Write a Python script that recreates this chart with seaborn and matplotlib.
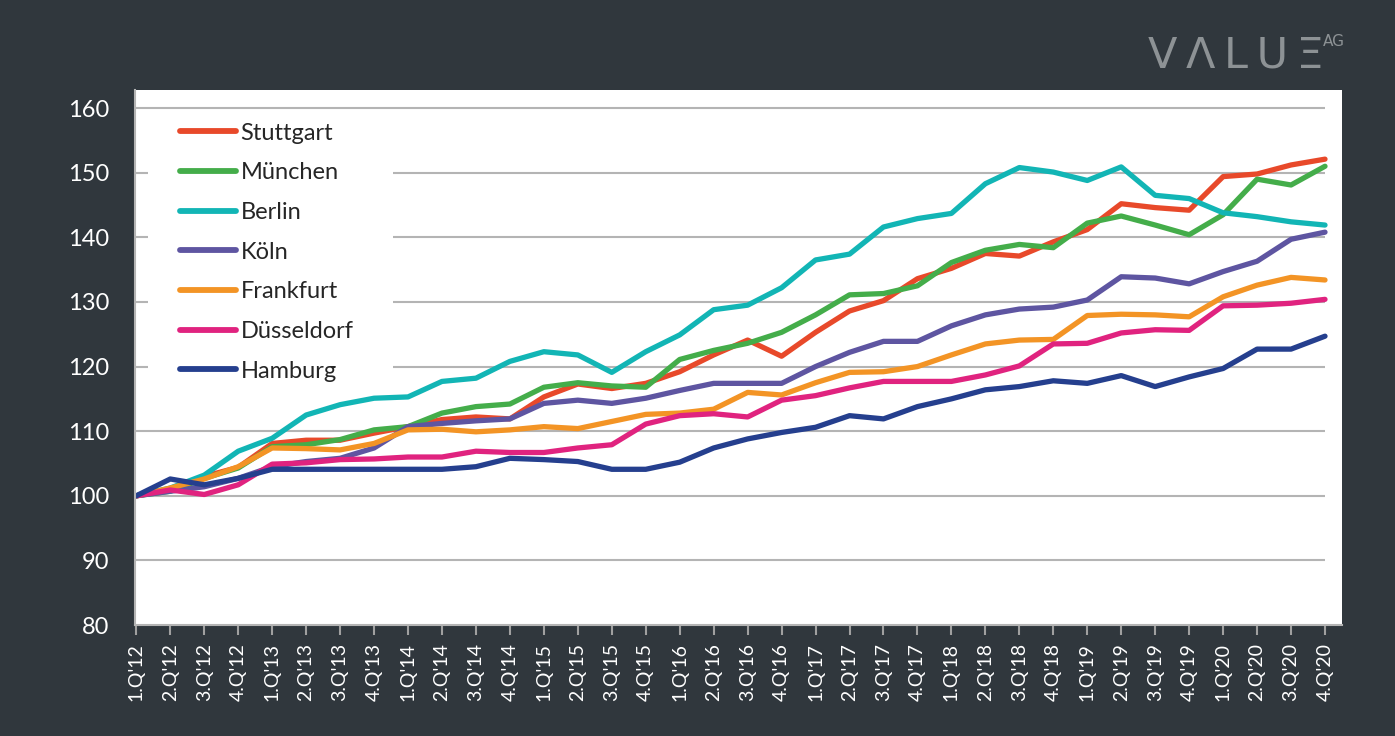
import numpy as np
import pandas as pd
import matplotlib
matplotlib.use("Agg")
import matplotlib.pyplot as plt
from matplotlib.patches import Rectangle
import seaborn as sns

quarters = [f"{q}.Q'{y}" for y in range(12, 21) for q in range(1, 5)]

stuttgart = [100, 100.9, 103.0, 104.4, 108.1, 108.6, 108.6, 109.7, 110.7, 111.8, 112.2, 111.9,
             115.3, 117.3, 116.6, 117.4, 119.2, 121.8, 124.1, 121.6, 125.3, 128.6, 130.2, 133.6,
             135.2, 137.5, 137.1, 139.3, 141.2, 145.2, 144.6, 144.2, 149.4, 149.8, 151.2, 152.1]
muenchen = [100, 100.7, 102.7, 104.3, 107.6, 107.9, 108.7, 110.2, 110.7, 112.8, 113.8, 114.2,
            116.8, 117.5, 117.0, 116.8, 121.1, 122.5, 123.6, 125.3, 128.0, 131.1, 131.3, 132.5,
            136.1, 138.0, 138.9, 138.4, 142.2, 143.3, 141.9, 140.4, 143.5, 149.0, 148.1, 151.0]
berlin = [100, 101.2, 103.2, 106.9, 108.9, 112.5, 114.1, 115.1, 115.3, 117.7, 118.2, 120.8,
          122.3, 121.8, 119.1, 122.3, 124.9, 128.8, 129.5, 132.2, 136.5, 137.4, 141.6, 142.9,
          143.7, 148.3, 150.8, 150.1, 148.8, 150.9, 146.5, 146.0, 143.8, 143.2, 142.4, 141.9]
koeln = [100, 100.7, 101.4, 102.7, 104.5, 105.3, 105.8, 107.4, 110.7, 111.2, 111.6, 111.9,
         114.3, 114.8, 114.3, 115.1, 116.3, 117.4, 117.4, 117.4, 120.0, 122.2, 123.9, 123.9,
         126.3, 128.0, 128.9, 129.2, 130.3, 133.9, 133.7, 132.8, 134.7, 136.3, 139.7, 140.8]
frankfurt = [100, 101.2, 102.6, 104.5, 107.4, 107.3, 107.1, 108.1, 110.2, 110.3, 109.9, 110.2,
             110.7, 110.4, 111.5, 112.6, 112.8, 113.4, 116.0, 115.6, 117.5, 119.1, 119.2, 120.0,
             121.8, 123.5, 124.1, 124.2, 127.9, 128.1, 128.0, 127.7, 130.8, 132.6, 133.8, 133.4]
duesseldorf = [100, 100.9, 100.2, 101.7, 104.9, 105.1, 105.6, 105.7, 106.0, 106.0, 106.9, 106.7,
               106.7, 107.4, 107.9, 111.1, 112.4, 112.7, 112.2, 114.8, 115.5, 116.7, 117.7, 117.7,
               117.7, 118.7, 120.1, 123.5, 123.6, 125.2, 125.7, 125.6, 129.4, 129.5, 129.8, 130.4]
hamburg = [100, 102.6, 101.7, 102.7, 104.1, 104.1, 104.1, 104.1, 104.1, 104.1, 104.5, 105.8,
           105.6, 105.3, 104.1, 104.1, 105.2, 107.4, 108.8, 109.8, 110.6, 112.4, 111.9, 113.8,
           115.0, 116.4, 116.9, 117.8, 117.4, 118.6, 116.9, 118.4, 119.7, 122.7, 122.7, 124.7]

cities = ["Stuttgart", "München", "Berlin", "Köln", "Frankfurt", "Düsseldorf", "Hamburg"]
series = [stuttgart, muenchen, berlin, koeln, frankfurt, duesseldorf, hamburg]
colors = ["#e8492a", "#44ad4a", "#12b5b5", "#5e55a1", "#f39425", "#e0237f", "#253f8e"]

rows = []
for city, vals in zip(cities, series):
    for i, v in enumerate(vals):
        rows.append({"idx": i, "value": v, "city": city})
df = pd.DataFrame(rows)

bg = "#30373d"
sns.set_style("white")
plt.rcParams["font.family"] = ["Lato", "DejaVu Sans"]

fig = plt.figure(figsize=(13.95, 7.36), dpi=100, facecolor=bg)
ax = fig.add_axes([0.0965, 0.1508, 0.8655, 0.7269])
ax.set_facecolor("white")

yticks = [80, 90, 100, 110, 120, 130, 140, 150, 160]
ax.hlines(yticks[1:], 0, len(quarters) - 1, color="#b4b4b4", lw=1.5, zorder=0)
# white block behind the legend hides the grid there
ax.add_patch(Rectangle((0.35, 117.3), 7.2, 41.6, facecolor="white",
                       edgecolor="none", zorder=0.5))

sns.lineplot(data=df, x="idx", y="value", hue="city", hue_order=cities,
             palette=dict(zip(cities, colors)), lw=3.8, ax=ax, legend=True,
             solid_capstyle="round")

ax.set_xlim(-0.05, 35.5)
ax.set_ylim(80, 162.8)
ax.set_yticks(yticks)
ax.set_xticks(range(len(quarters)))
ax.set_xticklabels(quarters, rotation=90)
ax.set_xlabel("")
ax.set_ylabel("")
ax.tick_params(axis="y", length=0, pad=18, labelsize=17, labelcolor="white")
ax.tick_params(axis="x", length=7, width=1.5, color="#a0a0a0", bottom=True,
               pad=6, labelsize=14, labelcolor="white")
for s in ["top", "right"]:
    ax.spines[s].set_visible(False)
ax.spines["bottom"].set_color("#b4b4b4")
ax.spines["bottom"].set_linewidth(1.5)
ax.spines["left"].set_color("#b4b4b4")
ax.spines["left"].set_linewidth(1.5)

leg = ax.legend(loc="upper left", bbox_to_anchor=(0.038, 0.939), frameon=False,
                fontsize=17, handlelength=2.35, handletextpad=0.2,
                labelspacing=0.79, borderpad=0, borderaxespad=0)
for line in leg.get_lines():
    line.set_linewidth(4.2)

fig.text(0.823, 0.908, "V\u2009Λ\u2009L\u2009U\u2009Ξ", color="#8d9295", fontsize=31,
         family="DejaVu Sans", ha="left", va="baseline")
fig.text(0.948, 0.938, "AG", color="#8d9295", fontsize=11,
         family="DejaVu Sans", ha="left", va="baseline")

fig.savefig("out.png", dpi=100, facecolor=bg)
